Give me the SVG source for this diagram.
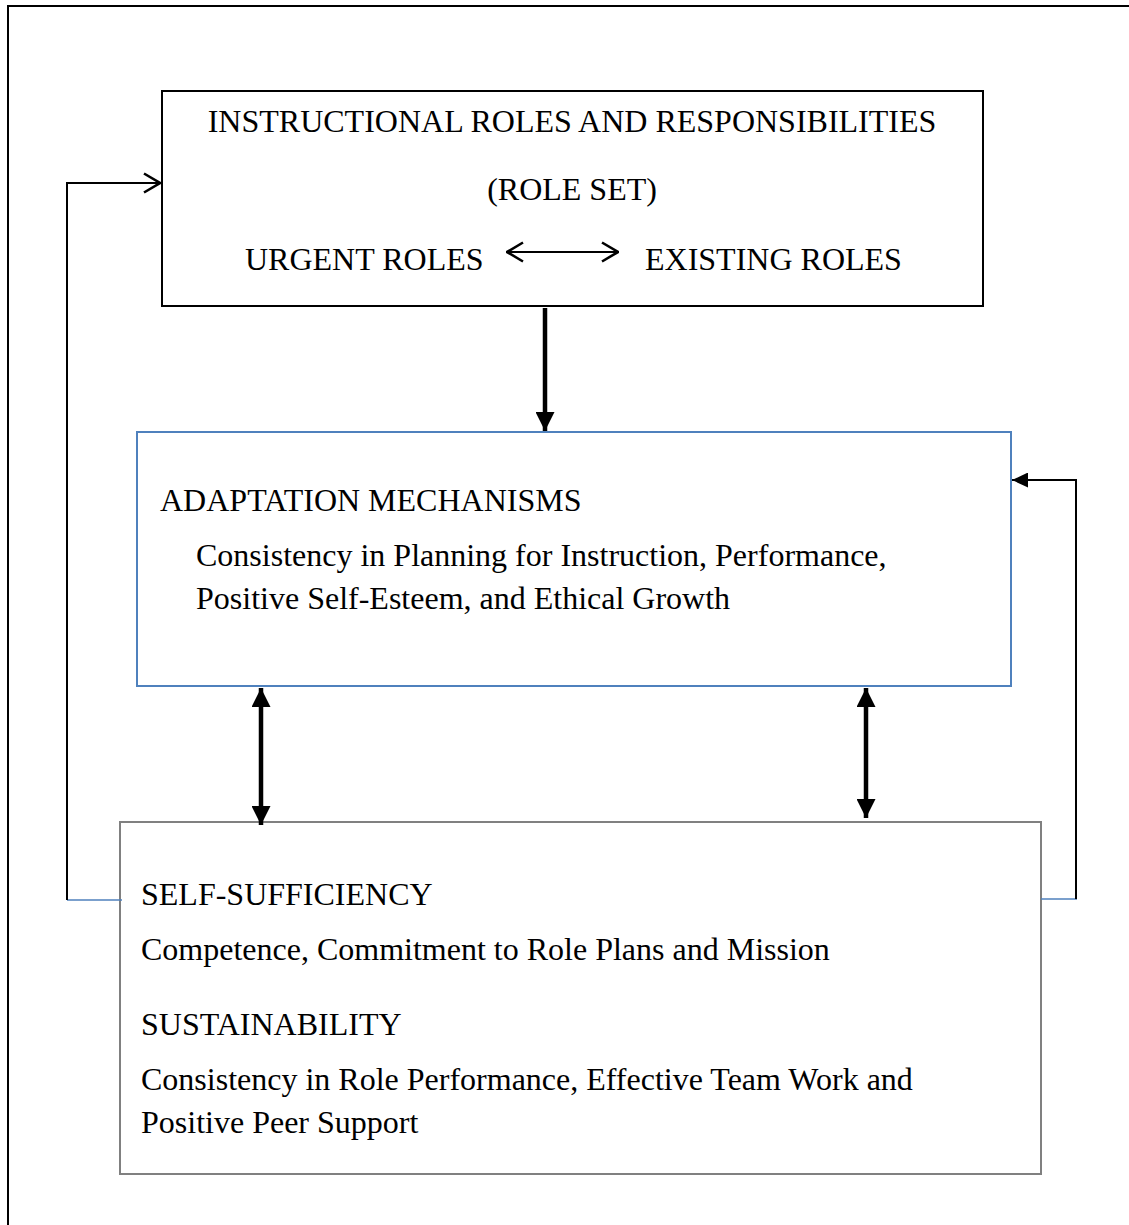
<svg xmlns="http://www.w3.org/2000/svg" width="1129" height="1225" viewBox="0 0 1129 1225">
  <defs>
    <style>
      .t { font-family: "Liberation Serif", "Times New Roman", serif; font-size: 32px; fill: #000; }
      .frame { fill: none; stroke: #000; stroke-width: 2; }
      .thin { fill: none; stroke: #000; stroke-width: 2; }
      .thick { fill: none; stroke: #000; stroke-width: 4.5; }
      .blue { fill: none; stroke: #4F81BD; stroke-width: 1.5; }
    </style>
    <marker id="open" viewBox="0 0 18 22" refX="17" refY="11" markerWidth="18" markerHeight="22" markerUnits="userSpaceOnUse" orient="auto-start-reverse">
      <path d="M1,1.5 L17,11 L1,20.5" fill="none" stroke="#000" stroke-width="2.6"/>
    </marker>
    <marker id="fill" viewBox="0 0 16 15" refX="16" refY="7.5" markerWidth="16" markerHeight="15" markerUnits="userSpaceOnUse" orient="auto-start-reverse">
      <path d="M0,0 L16,7.5 L0,15 Z" fill="#000"/>
    </marker>
    <marker id="big" viewBox="0 0 19 19" refX="19" refY="9.5" markerWidth="19" markerHeight="19" markerUnits="userSpaceOnUse" orient="auto-start-reverse">
      <path d="M0,0 L19,9.5 L0,19 Z" fill="#000"/>
    </marker>
  </defs>
  <rect width="1129" height="1225" fill="#fff"/>
  <path class="frame" d="M8,1225 L8,6 L1129,6"/>

  <g id="node-roles">
    <rect x="162" y="91" width="821" height="215" fill="#fff" stroke="#000" stroke-width="2"/>
    <text class="t" x="572" y="132" text-anchor="middle">INSTRUCTIONAL ROLES AND RESPONSIBILITIES</text>
    <text class="t" x="572" y="200" text-anchor="middle">(ROLE SET)</text>
    <text class="t" x="245" y="270">URGENT ROLES</text>
    <text class="t" x="645" y="270">EXISTING ROLES</text>
    <line class="thin" x1="507" y1="252" x2="618" y2="252" marker-start="url(#open)" marker-end="url(#open)"/>
  </g>

  <g id="node-adaptation">
    <rect x="137" y="432" width="874" height="254" fill="#fff" stroke="#4F81BD" stroke-width="2"/>
    <text class="t" x="160" y="511">ADAPTATION MECHANISMS</text>
    <text class="t" x="196" y="566">Consistency in Planning for Instruction, Performance,</text>
    <text class="t" x="196" y="609">Positive Self-Esteem, and Ethical Growth</text>
  </g>

  <g id="node-self">
    <rect x="120" y="822" width="921" height="352" fill="#fff" stroke="#808080" stroke-width="2"/>
    <text class="t" x="141" y="905">SELF-SUFFICIENCY</text>
    <text class="t" x="141" y="960">Competence, Commitment to Role Plans and Mission</text>
    <text class="t" x="141" y="1035">SUSTAINABILITY</text>
    <text class="t" x="141" y="1090">Consistency in Role Performance, Effective Team Work and</text>
    <text class="t" x="141" y="1133">Positive Peer Support</text>
  </g>

  <g id="connectors">
    <line class="thick" x1="545" y1="308" x2="545" y2="431" marker-end="url(#big)"/>
    <line class="thick" x1="261" y1="688" x2="261" y2="825" marker-start="url(#big)" marker-end="url(#big)"/>
    <line class="thick" x1="866" y1="688" x2="866" y2="818" marker-start="url(#big)" marker-end="url(#big)"/>
    <line class="blue" x1="67" y1="900" x2="122" y2="900"/>
    <path class="thin" d="M67,900 L67,183 L160,183" marker-end="url(#open)"/>
    <line class="blue" x1="1041" y1="899" x2="1077" y2="899"/>
    <path class="thin" d="M1076,899 L1076,480 L1012,480" marker-end="url(#fill)"/>
  </g>
</svg>
